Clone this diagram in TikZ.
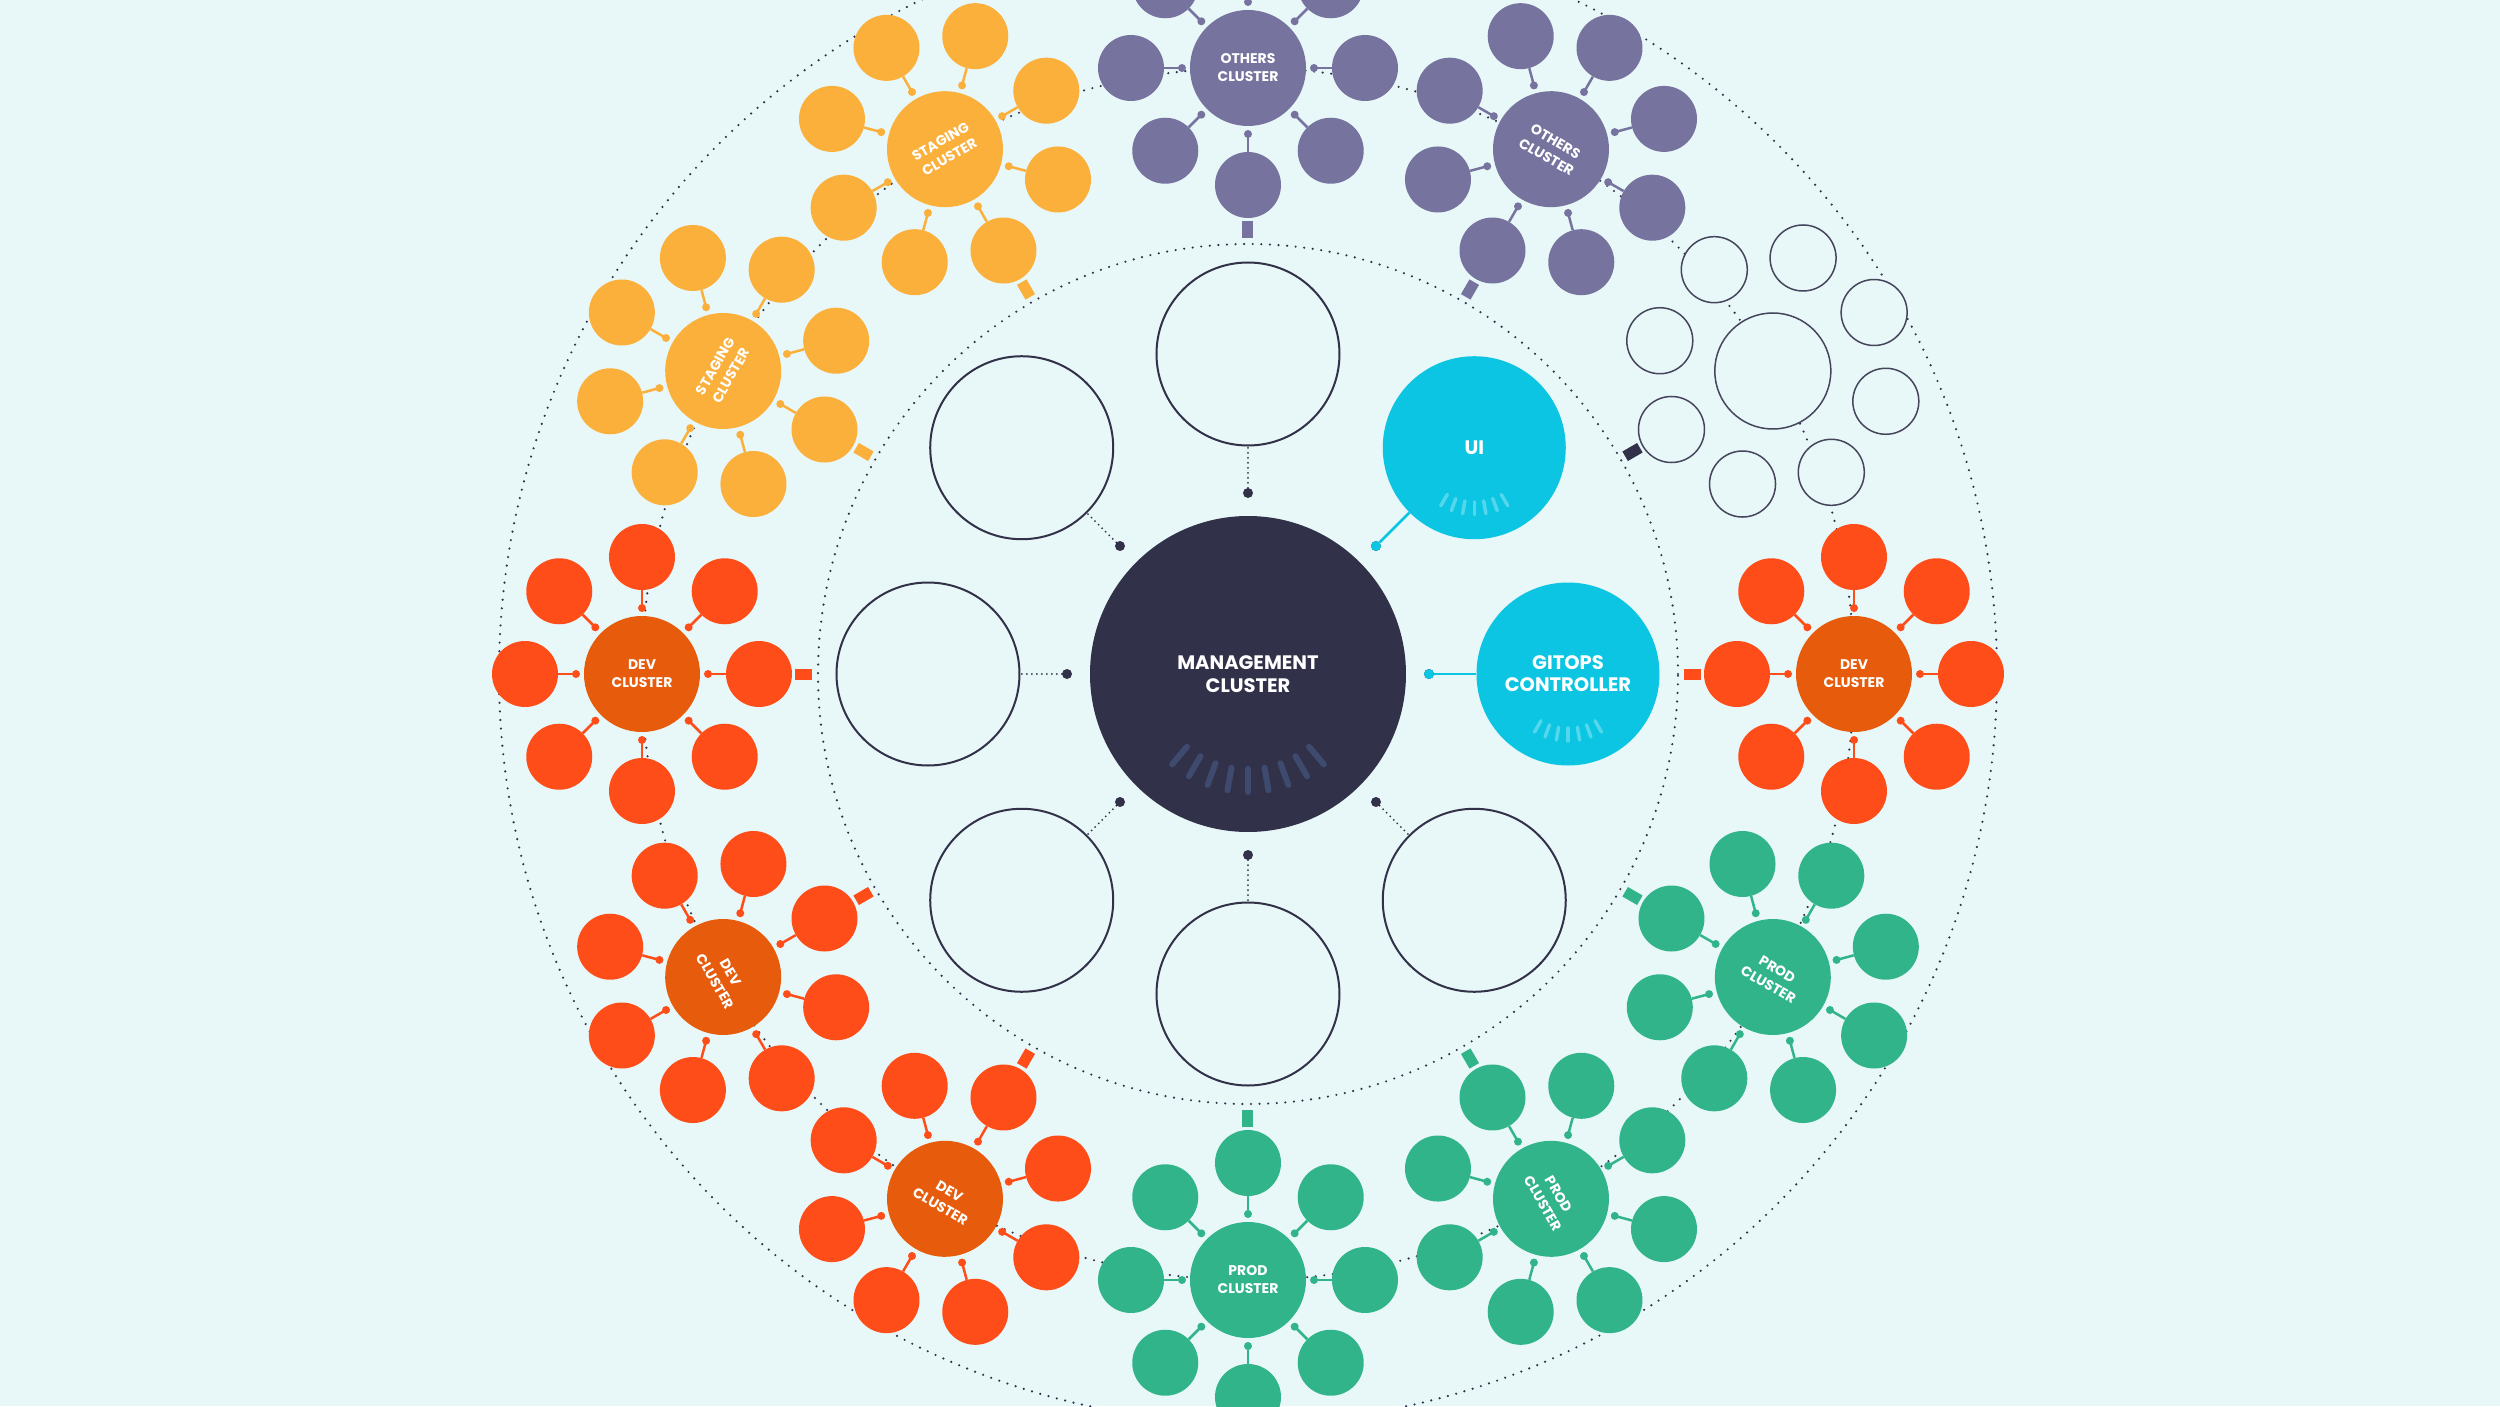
\documentclass[tikz,border=0pt]{standalone}
\usepackage{fontspec}
\setmainfont{Poppins}
\usetikzlibrary{positioning,calc}
\definecolor{bgmint}{HTML}{E8F7F7}
\definecolor{navy}{HTML}{32314A}
\definecolor{navytick}{HTML}{3E4A6E}
\definecolor{cyanui}{HTML}{0BC5E3}
\definecolor{cyantick}{HTML}{52D7EC}
\definecolor{devcore}{HTML}{E65C0C}
\definecolor{devsat}{HTML}{FF4D1A}
\definecolor{stagecol}{HTML}{FBB03B}
\definecolor{othercol}{HTML}{76749F}
\definecolor{prodcol}{HTML}{32B48A}
\definecolor{ghostline}{HTML}{45455C}
\tikzset{
  ring/.style     = {draw=navy, line width=2.4pt, dash pattern=on 0pt off 8.6pt, line cap=round},
  link/.style     = {draw=navy, line width=2pt, dash pattern=on 0pt off 5pt, line cap=round},
  wire/.style     = {draw=cyanui, line width=2.5pt},
  mgmt/.style     = {circle, fill=navy, minimum size=316pt, inner sep=0pt, align=center,
                     text=white, font=\fontsize{19.5}{23}\selectfont\bfseries},
  svc/.style      = {circle, fill=cyanui, minimum size=183pt, inner sep=0pt, align=center,
                     text=white, font=\fontsize{19.5}{22}\selectfont\bfseries},
  slot/.style     = {circle, draw=navy, line width=2pt, fill=bgmint, minimum size=183pt, inner sep=0pt},
  hub/.style      = {circle, fill=navy, minimum size=10pt, inner sep=0pt},
  core/.style     = {circle, minimum size=116pt, inner sep=0pt, align=center,
                     text=white, font=\fontsize{14}{18}\selectfont\bfseries},
  sat/.style      = {circle, minimum size=66pt, inner sep=0pt},
  knob/.style     = {circle, minimum size=8pt, inner sep=0pt},
  stem/.style     = {line width=2.5pt},
  plug/.style     = {rectangle, minimum width=17pt, minimum height=11pt, inner sep=0pt},
  tickmark/.style = {line width=6pt, line cap=round},
  ghost/.style    = {circle, draw=ghostline, line width=1.5pt, fill=bgmint, inner sep=0pt},
}
\begin{document}
\begin{tikzpicture}[x=1pt, y=1pt]
\useasboundingbox (-1248,-732) rectangle (1252,674);
\clip (-1248,-732) rectangle (1252,674);
\fill[bgmint] (-1248,-732) rectangle (1252,674);

% rings
\draw[ring] (0,0) circle[radius=430];
\draw[ring] (0,0) circle[radius=606];
\draw[ring] (0,0) circle[radius=749];

% management cluster and its services
\node[mgmt] (mgmt) at (0,0) {MANAGEMENT\\CLUSTER};
\foreach \t in {230,240,...,310}
  \draw[tickmark, navytick] (\t:95) -- (\t:118);

\node[svc] (i0) at (0:320) {GITOPS\\CONTROLLER};
\node[svc] (i1) at (45:320) {UI};
\foreach \j in {2,...,7}
  \node[slot] (i\j) at (45*\j:320) {};
\foreach \j in {0,...,7}
  \node[hub] (d\j) at (45*\j:181) {};
\fill[cyanui] (d0) circle[radius=5];
\fill[cyanui] (d1) circle[radius=5];
\draw[wire] (d0) -- (i0);
\draw[wire] (d1) -- (i1);
\foreach \j in {2,...,7}
  \draw[link] (d\j) -- (i\j);
\foreach \j in {0,1}
  \foreach \t in {240,250,...,300}
    \draw[tickmark, cyantick, line width=3.5pt] ($(i\j.center)+(\t:54)$) -- ($(i\j.center)+(\t:67)$);

% workload clusters
\foreach \ang/\corec/\satc/\lbl/\rot [count=\i] in {
    0/devcore/devsat/DEV/0,
    60/othercol/othercol/OTHERS/-30,
    90/othercol/othercol/OTHERS/0,
    120/stagecol/stagecol/STAGING/30,
    150/stagecol/stagecol/STAGING/60,
    180/devcore/devsat/DEV/0,
    210/devcore/devsat/DEV/-60,
    240/devcore/devsat/DEV/-30,
    270/prodcol/prodcol/PROD/0,
    300/prodcol/prodcol/PROD/-60,
    330/prodcol/prodcol/PROD/-30} {
  \node[core, fill=\corec, rotate=\rot] (c\i) at (\ang:606) {\lbl\\CLUSTER};
  \foreach \k in {0,...,7} {
    \pgfmathsetmacro\sa{\ang+45*\k}
    \node[sat, fill=\satc] (s\i-\k) at ($(c\i.center)+(\sa:117)$) {};
    \node[knob, fill=\satc] (p\i-\k) at ($(c\i.center)+(\sa:66)$) {};
    \draw[stem, \satc] (s\i-\k) -- (p\i-\k.center);
  }
  \node[plug, fill=\satc, rotate=\ang] (q\i) at ($(c\i.center)+(\ang+180:162)$) {};
}

% empty cluster
\node[ghost, minimum size=116pt] (c0) at (30:606) {};
\foreach \k in {0,...,7} {
  \pgfmathsetmacro\sa{30+45*\k}
  \node[ghost, minimum size=66pt] (s0-\k) at ($(c0.center)+(\sa:117)$) {};
}
\node[plug, fill=navy, rotate=30] (q0) at ($(c0.center)+(210:162)$) {};
\end{tikzpicture}
\end{document}
